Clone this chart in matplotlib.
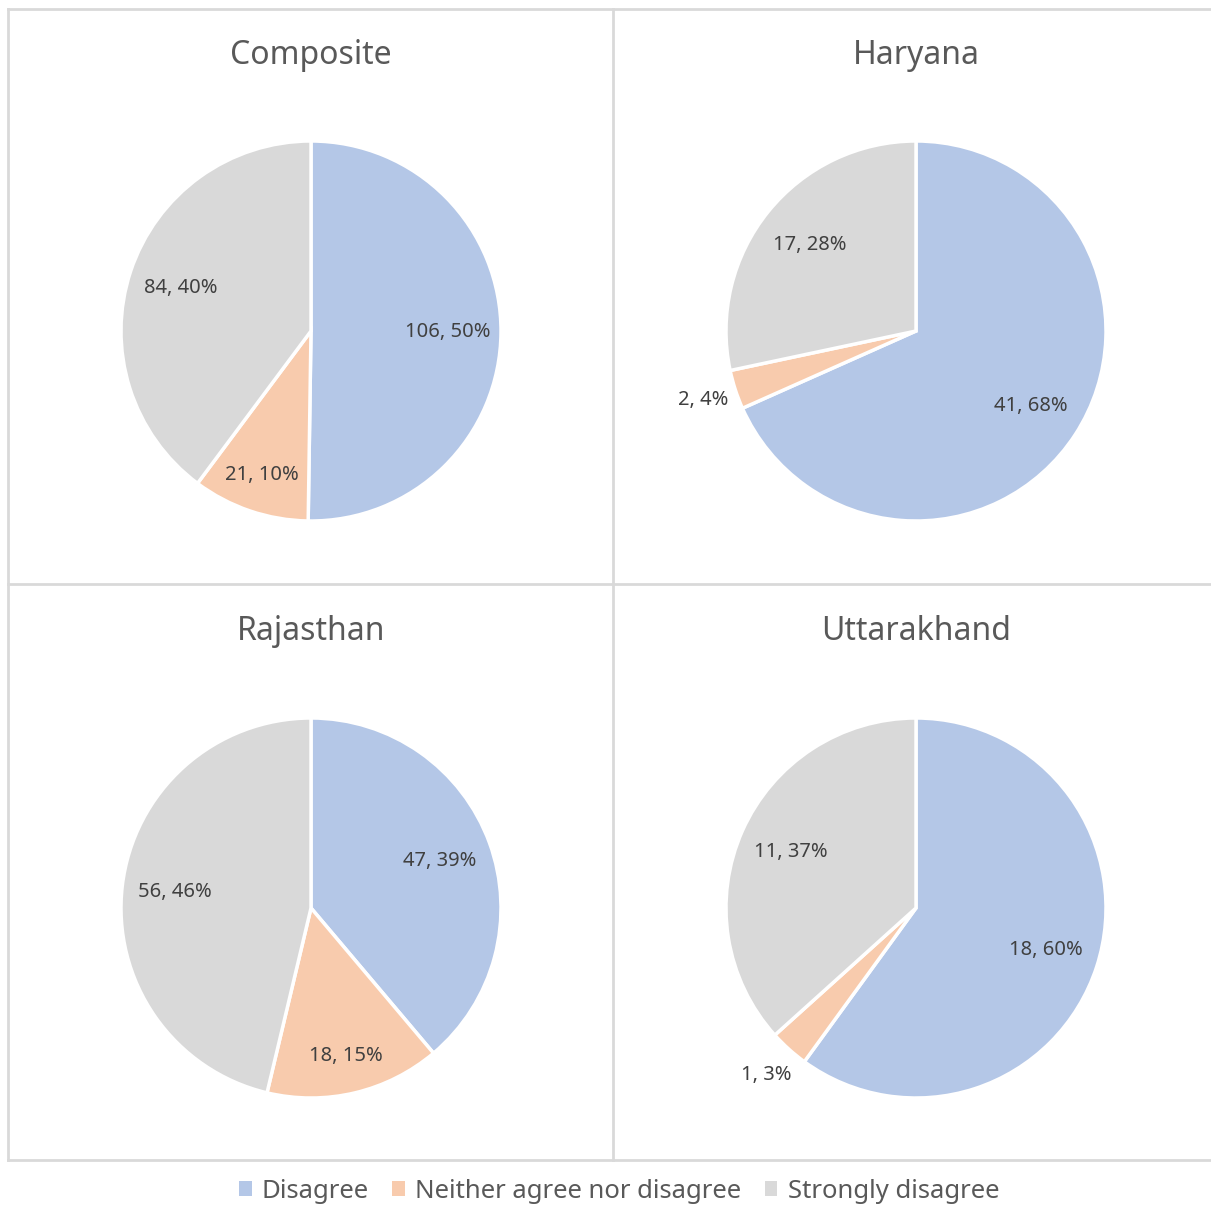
import matplotlib.pyplot as plt
import numpy as np
from matplotlib.lines import Line2D
from matplotlib.patches import Patch

plt.rcParams['font.family'] = ['Noto Sans', 'DejaVu Sans']

# 回答データ（件数）
categories = ["Disagree", "Neither agree nor disagree", "Strongly disagree"]
regions = ["Composite", "Haryana", "Rajasthan", "Uttarakhand"]
composite = [106, 21, 84]
haryana = [41, 2, 17]
rajasthan = [47, 18, 56]
uttarakhand = [18, 1, 11]
pct_labels = {
    "Composite": ["50%", "10%", "40%"],
    "Haryana": ["68%", "4%", "28%"],
    "Rajasthan": ["39%", "15%", "46%"],
    "Uttarakhand": ["60%", "3%", "37%"],
}
counts = {"Composite": composite, "Haryana": haryana,
          "Rajasthan": rajasthan, "Uttarakhand": uttarakhand}

colors = ['#B4C7E7', '#F8CBAD', '#D9D9D9']

W, H = 1211, 1205
fig = plt.figure(figsize=(W / 100, H / 100), dpi=100)

# パネルの中心（ピクセル）
centers = {"Composite": (311, 331), "Haryana": (916, 331),
           "Rajasthan": (311, 908), "Uttarakhand": (916, 908)}
R = 190

for name in regions:
    cx, cy = centers[name]
    ax = fig.add_axes([(cx - R) / W, 1 - (cy + R) / H, 2 * R / W, 2 * R / H])
    vals = counts[name]
    wedges, _ = ax.pie(vals, colors=colors, startangle=90, counterclock=False,
                       radius=1, wedgeprops=dict(edgecolor='white', linewidth=2.5))
    ax.set_xlim(-1, 1)
    ax.set_ylim(-1, 1)
    ax.set_aspect('equal')
    for w, v, p in zip(wedges, vals, pct_labels[name]):
        mid = np.deg2rad((w.theta1 + w.theta2) / 2)
        frac = (w.theta2 - w.theta1) / 360
        d = 1.18 if frac < 0.05 else (0.8 if frac < 0.2 else 0.72)
        ax.text(d * np.cos(mid), d * np.sin(mid), f"{v}, {p}",
                ha='center', va='center', fontsize=14.5, color='#404040')
    title_y = 55 if cy < 600 else 631
    fig.text(cx / W, 1 - title_y / H, name,
             ha='center', va='center', fontsize=23, color='#595959')

# 枠線
lc = '#D9D9D9'
def hline(y, x0, x1):
    fig.add_artist(Line2D([x0 / W, x1 / W], [1 - y / H, 1 - y / H], color=lc, lw=2))
def vline(x, y0, y1):
    fig.add_artist(Line2D([x / W, x / W], [1 - y0 / H, 1 - y1 / H], color=lc, lw=2))

hline(9, 8, W)
hline(584, 8, W)
hline(1160, 8, W)
vline(8, 9, 1160)
vline(613, 9, 1160)

handles = [Patch(facecolor=c, edgecolor='none') for c in colors]
leg = fig.legend(handles, categories, loc='center', bbox_to_anchor=(619 / W, 1 - 1191 / H),
                 ncol=3, frameon=False, fontsize=18.5, handlelength=0.5, handleheight=0.5,
                 handletextpad=0.4, columnspacing=0.9)
for t in leg.get_texts():
    t.set_color('#595959')

plt.savefig('out.png', dpi=100)
